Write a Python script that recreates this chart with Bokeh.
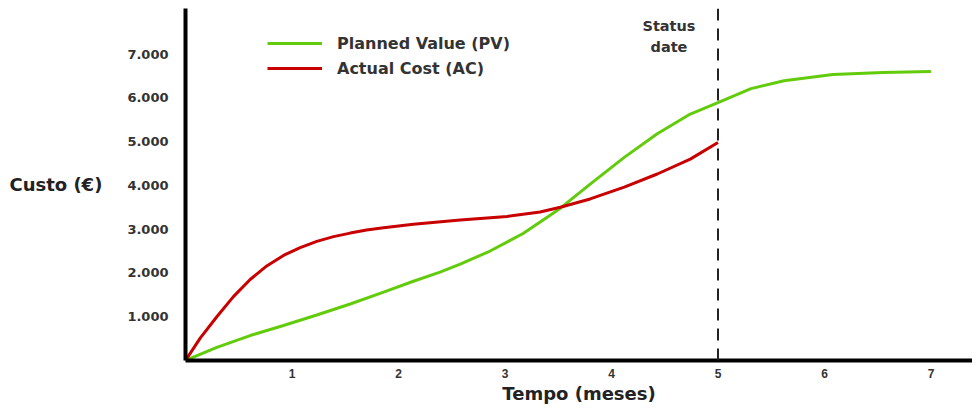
from bokeh.plotting import figure
from bokeh.models import Range1d, FixedTicker, Span, Legend, LegendItem
from bokeh.core.properties import value
from bokeh.embed import file_html
from bokeh.resources import INLINE

# ---- data ----
pv_months = [0, 0.294, 0.607, 0.92, 1.233, 1.547, 1.86, 2.14, 2.39, 2.58, 2.86, 3.17, 3.4, 3.52, 3.8, 4.12, 4.43, 4.74, 5.0, 5.31, 5.62, 6.08, 6.55, 7.0]
pv_values = [0, 300, 570, 800, 1040, 1290, 1560, 1810, 2020, 2200, 2500, 2900, 3280, 3480, 4030, 4640, 5180, 5630, 5890, 6210, 6390, 6530, 6580, 6600]

ac_months = [0, 0.138, 0.294, 0.45, 0.607, 0.763, 0.92, 1.077, 1.233, 1.39, 1.547, 1.70, 1.86, 2.14, 2.58, 3.02, 3.33, 3.52, 3.8, 4.12, 4.43, 4.74, 5.0]
ac_values = [0, 510, 1000, 1460, 1850, 2160, 2400, 2580, 2720, 2830, 2910, 2980, 3030, 3110, 3210, 3290, 3390, 3500, 3690, 3960, 4260, 4600, 4980]

x_ticks = [1, 2, 3, 4, 5, 6, 7]
y_ticks = [1000, 2000, 3000, 4000, 5000, 6000, 7000]
y_tick_labels = ["1.000", "2.000", "3.000", "4.000", "5.000", "6.000", "7.000"]

status_date = 5
status_text = "Status\ndate"
pv_label = "Planned Value (PV)"
ac_label = "Actual Cost (AC)"
x_title = "Tempo (meses)"
y_title = "Custo (€)"

X_MAX = 7.39
Y_MAX = 8040

GREEN = "#62cc0c"
RED = "#c80000"

p = figure(width=972, height=407, output_backend="svg", toolbar_location=None,
           x_range=Range1d(0, X_MAX), y_range=Range1d(0, Y_MAX),
           min_border_left=185, min_border_right=0, min_border_top=8, min_border_bottom=47)
p.outline_line_color = None
p.grid.visible = False
p.background_fill_color = "white"
p.border_fill_color = "white"

pv = p.line(pv_months, pv_values, line_color=GREEN, line_width=3)
ac = p.line(ac_months, ac_values, line_color=RED, line_width=3)

p.add_layout(Span(location=status_date, dimension="height", line_color="#222222",
                  line_width=2, line_dash="12 8"))

p.text(x=[status_date], y=[Y_MAX], text=[status_text], x_offset=-49, y_offset=9,
       text_align="center", text_baseline="top", text_font=value("DejaVu Sans"),
       text_font_style="bold", text_font_size="14.5px", text_color="#333333",
       text_line_height=1.35)

legend = Legend(items=[LegendItem(label=pv_label, renderers=[pv]),
                       LegendItem(label=ac_label, renderers=[ac])],
                location=(82, 282), padding=0, margin=0, spacing=5,
                glyph_width=55, glyph_height=20, label_height=20, label_standoff=15,
                label_text_font="DejaVu Sans", label_text_font_style="bold",
                label_text_font_size="16px", label_text_color="#333333",
                border_line_color=None, background_fill_alpha=0)
p.add_layout(legend)

# axes
for ax in (p.xaxis[0], p.yaxis[0]):
    ax.axis_line_color = "black"
    ax.axis_line_width = 4
    ax.major_tick_line_color = None
    ax.minor_tick_line_color = None
    ax.major_tick_out = 0
    ax.major_tick_in = 0
    ax.minor_tick_out = 0
    ax.minor_tick_in = 0
    ax.axis_label_text_font = "DejaVu Sans"
    ax.axis_label_text_font_style = "bold"
    ax.axis_label_text_color = "#222222"
    ax.major_label_text_font_style = "bold"
    ax.major_label_text_color = "#333333"

p.xaxis.ticker = FixedTicker(ticks=x_ticks)
p.xaxis.major_label_text_font = "Liberation Sans"
p.xaxis.major_label_text_font_size = "12px"
p.xaxis.major_label_standoff = 8
p.xaxis.axis_label = x_title
p.xaxis.axis_label_text_font_size = "18px"
p.xaxis.axis_label_standoff = 2

p.yaxis.ticker = FixedTicker(ticks=y_ticks)
p.yaxis.major_label_overrides = {t: l for t, l in zip(y_ticks, y_tick_labels)}
p.yaxis.major_label_text_font = "DejaVu Sans"
p.yaxis.major_label_text_font_size = "13px"
p.yaxis.major_label_standoff = 17
p.yaxis.axis_label = y_title
p.yaxis.axis_label_orientation = "horizontal"
p.yaxis.axis_label_text_font_size = "18px"
p.yaxis.axis_label_standoff = 22

open("out.html", "w").write(file_html(p, INLINE))
